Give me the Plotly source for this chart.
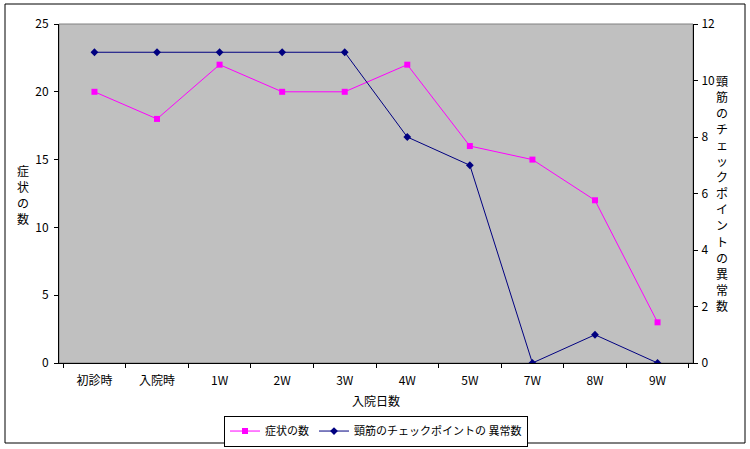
import plotly.graph_objects as go

categories = ["初診時", "入院時", "1W", "2W", "3W", "4W", "5W", "7W", "8W", "9W"]
symptoms = [20, 18, 22, 20, 20, 22, 16, 15, 12, 3]
neck_abnormal = [11, 11, 11, 11, 11, 8, 7, 0, 1, 0]
left_ticks = [0, 5, 10, 15, 20, 25]
right_ticks = [0, 2, 4, 6, 8, 10, 12]
left_title = "症状の数"
right_title = "頸筋のチェックポイントの異常数"

FONT = "Noto Sans CJK JP"
W, H = 750, 449
ML, MR, MT, MB = 59, 57, 24, 86
PW, PH = W - ML - MR, H - MT - MB


def px_to_paper(px, py):
    return (px - ML) / PW, (H - MB - py) / PH


fig = go.Figure()
fig.add_trace(go.Scatter(
    x=categories, y=symptoms, name="症状の数", mode="lines+markers",
    line=dict(color="#FF00FF", width=1),
    marker=dict(symbol="square", size=6, color="#FF00FF"),
))
fig.add_trace(go.Scatter(
    x=categories, y=neck_abnormal, name="頸筋のチェックポイントの 異常数", mode="lines+markers",
    yaxis="y2",
    line=dict(color="#000080", width=1),
    marker=dict(symbol="diamond", size=6, color="#000080"),
))

annotations = []
for i, ch in enumerate(left_title):
    ax, ay = px_to_paper(23, 170 + 16 * i)
    annotations.append(dict(text=ch, xref="paper", yref="paper", x=ax, y=ay,
                            xanchor="center", yanchor="middle", showarrow=False,
                            font=dict(family=FONT, size=12)))
for i, ch in enumerate(right_title):
    ax, ay = px_to_paper(722, 80 + 16.1 * i)
    annotations.append(dict(text=ch, xref="paper", yref="paper", x=ax, y=ay,
                            xanchor="center", yanchor="middle", showarrow=False,
                            font=dict(family=FONT, size=12)))

bx0, by0 = px_to_paper(5, 443)
bx1, by1 = px_to_paper(745, 4)

fig.update_layout(
    width=W, height=H,
    margin=dict(l=ML, r=MR, t=MT, b=MB, autoexpand=False),
    paper_bgcolor="white",
    plot_bgcolor="#C0C0C0",
    font=dict(family=FONT, size=12, color="black"),
    showlegend=True,
    legend=dict(
        orientation="h", x=0.5, xanchor="center", y=-0.155, yanchor="top",
        bordercolor="black", borderwidth=1, bgcolor="white",
        font=dict(family=FONT, size=11), itemwidth=30,
        tracegroupgap=0,
    ),
    xaxis=dict(
        type="category", tickson="boundaries", ticks="outside", ticklen=4,
        tickcolor="black", showline=True, linecolor="black", linewidth=1,
        showgrid=False, zeroline=False, mirror=False, automargin=False,
        title=dict(text="入院日数", font=dict(family=FONT, size=12), standoff=10),
        tickfont=dict(family=FONT, size=12), ticklabelstandoff=7,
    ),
    yaxis=dict(
        range=[0, 25], tickvals=left_ticks, ticks="outside", ticklen=4,
        tickcolor="black", showline=True, linecolor="black", linewidth=1,
        showgrid=False, zeroline=False, tickfont=dict(family=FONT, size=12),
        ticklabelstandoff=3, automargin=False,
    ),
    yaxis2=dict(
        range=[0, 12], tickvals=right_ticks, overlaying="y", side="right",
        ticks="outside", ticklen=4, tickcolor="black", showline=True,
        linecolor="black", linewidth=1, showgrid=False, zeroline=False,
        tickfont=dict(family=FONT, size=12), ticklabelstandoff=1, automargin=False,
    ),
    shapes=[
        dict(type="rect", xref="paper", yref="paper", x0=0, x1=1, y0=0, y1=1,
             line=dict(color="#808080", width=1), layer="below"),
        dict(type="rect", xref="paper", yref="paper",
             x0=bx0, x1=bx1, y0=by0, y1=by1,
             line=dict(color="black", width=1)),
    ],
    annotations=annotations,
)

fig.write_html("out.html", post_script="document.body.style.margin='0';",
               config={"displayModeBar": False})
